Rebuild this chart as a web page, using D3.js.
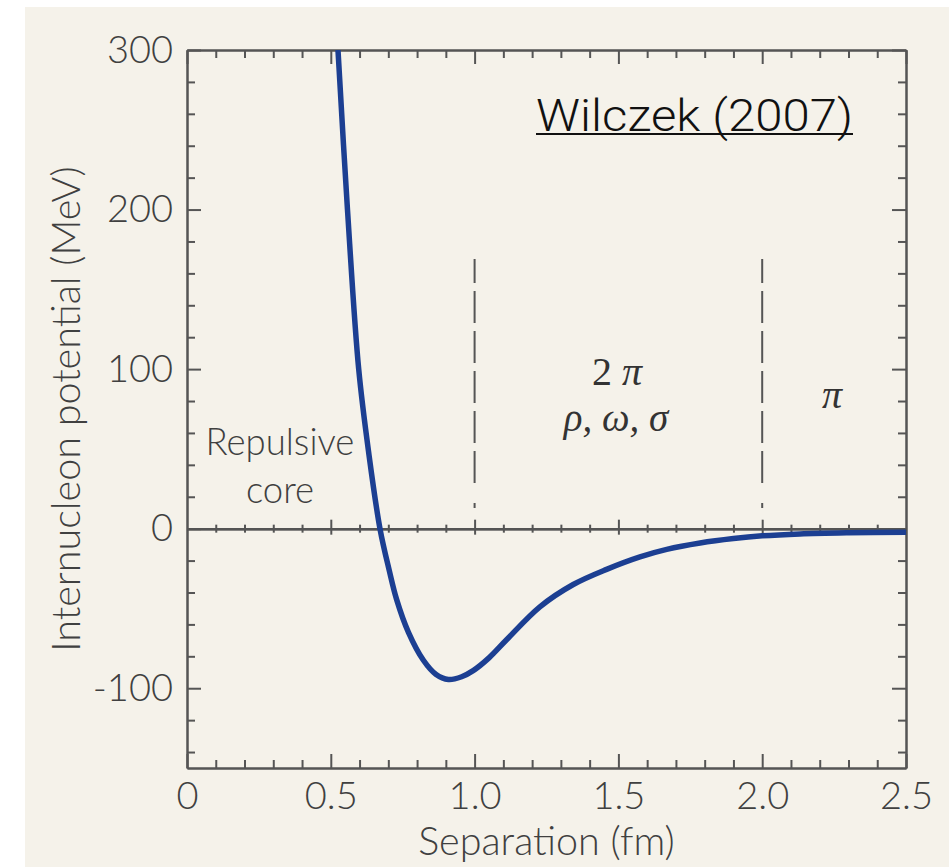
<!DOCTYPE html>
<html>
<head>
<meta charset="utf-8">
<script src="https://cdn.jsdelivr.net/npm/d3@7"></script>
<style>
  html, body { margin: 0; padding: 0; background: #fff; }
  svg { display: block; }
</style>
</head>
<body>
<div id="chart"></div>
<script>
// separation (fm) and internucleon potential (MeV)
var separation = [0.525, 0.558, 0.597, 0.633, 0.671, 0.703, 0.729, 0.770, 0.822, 0.865,
                  0.909, 0.955, 0.995, 1.050, 1.112, 1.227, 1.343, 1.459, 1.575, 1.668,
                  1.784, 1.900, 2.000, 2.131, 2.300, 2.500];
var potential  = [300, 200, 100, 46, 0, -26, -44.5, -65, -82.5, -91.2,
                  -94.5, -92.8, -89, -81, -69.5, -49, -35, -25.5, -17.7, -13,
                  -9, -6.2, -4.5, -3.3, -2.6, -2.2];

var xMajor = [0, 0.5, 1.0, 1.5, 2.0, 2.5];
var xTickLabels = ["0", "0.5", "1.0", "1.5", "2.0", "2.5"];
var yMajor = [-100, 0, 100, 200, 300];
var yTickLabels = ["-100", "0", "100", "200", "300"];

// range boundaries (dashed)
var dividers = [1.0, 2.0];
var dividerTop = 169;

var width = 949, height = 867;
var svg = d3.select("#chart").append("svg")
    .attr("width", width)
    .attr("height", height);

// cream panel
svg.append("rect")
    .attr("x", 25).attr("y", 7)
    .attr("width", width - 25).attr("height", height - 7)
    .attr("fill", "#f5f2ea");

var x = d3.scaleLinear().domain([0, 2.5]).range([187, 906]);
var y = d3.scaleLinear().domain([-150, 300]).range([768, 50]);

var xMinor = d3.range(1, 25).map(function (i) { return i / 10; })
    .filter(function (v) { return Math.abs(v * 2 - Math.round(v * 2)) > 1e-6; });
var yMinor = d3.range(-140, 300, 20).filter(function (v) { return v % 100 !== 0; });

var axisColor = "#555";
var textColor = "#404040";
var font = "Lato, 'Open Sans', sans-serif";

function styleAxis(g) {
    g.selectAll(".domain").attr("stroke", axisColor).attr("stroke-width", 2);
    g.selectAll(".tick line").attr("stroke", axisColor).attr("stroke-width", 2);
    g.selectAll(".tick text")
        .attr("fill", textColor)
        .attr("font-family", font)
        .attr("font-weight", 300)
        .attr("font-size", 38);
}

//Minor ticks first, majors on top
var topAxis = svg.append("g").attr("transform", "translate(0," + y.range()[1] + ")");
topAxis.append("g").call(d3.axisTop(x).tickValues(xMinor).tickSize(-8).tickSizeOuter(0).tickFormat("")).call(styleAxis);
topAxis.append("g").call(d3.axisTop(x).tickValues(xMajor).tickSize(-14).tickSizeOuter(0).tickFormat("")).call(styleAxis);

var bottomAxis = svg.append("g").attr("transform", "translate(0," + y.range()[0] + ")");
bottomAxis.append("g").call(d3.axisBottom(x).tickValues(xMinor).tickSize(-8).tickSizeOuter(0).tickFormat("")).call(styleAxis);
bottomAxis.append("g").call(d3.axisBottom(x).tickValues(xMajor).tickSize(-14).tickSizeOuter(0).tickPadding(14)
    .tickFormat(function (d, i) { return xTickLabels[i]; })).call(styleAxis);

var leftAxis = svg.append("g").attr("transform", "translate(" + x.range()[0] + ",0)");
leftAxis.append("g").call(d3.axisLeft(y).tickValues(yMinor).tickSize(-8).tickSizeOuter(0).tickFormat("")).call(styleAxis);
leftAxis.append("g").call(d3.axisLeft(y).tickValues(yMajor).tickSize(-14).tickSizeOuter(0).tickPadding(14)
    .tickFormat(function (d, i) { return yTickLabels[i]; })).call(styleAxis);

var rightAxis = svg.append("g").attr("transform", "translate(" + x.range()[1] + ",0)");
rightAxis.append("g").call(d3.axisRight(y).tickValues(yMinor).tickSize(-8).tickSizeOuter(0).tickFormat("")).call(styleAxis);
rightAxis.append("g").call(d3.axisRight(y).tickValues(yMajor).tickSize(-14).tickSizeOuter(0).tickFormat("")).call(styleAxis);

// zero line with ticks crossing it
var zeroAxis = svg.append("g").attr("transform", "translate(0," + y(0) + ")");
zeroAxis.append("g").call(d3.axisBottom(x).tickValues(xMinor).tickSize(4).tickSizeOuter(0).tickFormat("")).call(styleAxis);
zeroAxis.append("g").call(d3.axisBottom(x).tickValues(xMinor).tickSize(-4).tickSizeOuter(0).tickFormat("")).call(styleAxis);
zeroAxis.append("g").call(d3.axisBottom(x).tickValues(xMajor.slice(1, -1)).tickSize(6).tickSizeOuter(0).tickFormat("")).call(styleAxis);
zeroAxis.append("g").call(d3.axisBottom(x).tickValues(xMajor.slice(1, -1)).tickSize(-9).tickSizeOuter(0).tickFormat("")).call(styleAxis);

// dashed boundaries
svg.append("g").selectAll("line")
    .data(dividers)
    .enter().append("line")
    .attr("x1", function (d) { return x(d); })
    .attr("x2", function (d) { return x(d); })
    .attr("y1", y(dividerTop))
    .attr("y2", y(0))
    .attr("stroke", "#555")
    .attr("stroke-width", 2)
    .attr("stroke-dasharray", "24,8,32,8,32,8,32,8,32,8,32,20,5,40");

// the potential curve
svg.append("defs").append("clipPath").attr("id", "plotClip")
    .append("rect")
    .attr("x", x.range()[0]).attr("y", y.range()[1])
    .attr("width", x.range()[1] - x.range()[0])
    .attr("height", y.range()[0] - y.range()[1]);

var pts = separation.map(function (s, i) { return [s, potential[i]]; });
var line = d3.line()
    .x(function (d) { return x(d[0]); })
    .y(function (d) { return y(d[1]); })
    .curve(d3.curveCatmullRom.alpha(0.5));

svg.append("path")
    .datum(pts)
    .attr("clip-path", "url(#plotClip)")
    .attr("d", line)
    .attr("fill", "none")
    .attr("stroke", "#1c3f92")
    .attr("stroke-width", 5.5)
    .attr("stroke-linejoin", "round");

// axis titles
svg.append("text")
    .attr("x", (x.range()[0] + x.range()[1]) / 2)
    .attr("y", 855)
    .attr("text-anchor", "middle")
    .attr("font-family", font)
    .attr("font-weight", 300)
    .attr("font-size", 39.5)
    .attr("fill", textColor)
    .text("Separation (fm)");

svg.append("text")
    .attr("transform", "translate(80," + (y.range()[0] + y.range()[1]) / 2 + ") rotate(-90)")
    .attr("text-anchor", "middle")
    .attr("font-family", font)
    .attr("font-weight", 300)
    .attr("font-size", 39.5)
    .attr("fill", textColor)
    .text("Internucleon potential (MeV)");

// region labels
var core = svg.append("text")
    .attr("text-anchor", "middle")
    .attr("font-family", font)
    .attr("font-weight", 300)
    .attr("font-size", 36.5)
    .attr("fill", textColor);
core.append("tspan").attr("x", 280).attr("y", 455).text("Repulsive");
core.append("tspan").attr("x", 280).attr("y", 503).text("core");

var serif = "'Liberation Serif', 'DejaVu Serif', serif";
var mid = svg.append("text")
    .attr("text-anchor", "middle")
    .attr("font-family", serif)
    .attr("font-size", 40)
    .attr("fill", "#333");
mid.append("tspan").attr("x", 617).attr("y", 385).text("2 ");
mid.append("tspan").attr("font-style", "italic").text("π");
svg.append("text")
    .attr("x", 616).attr("y", 431)
    .attr("text-anchor", "middle")
    .attr("font-family", serif)
    .attr("font-style", "italic")
    .attr("font-size", 39)
    .attr("fill", "#333")
    .text("ρ, ω, σ");
svg.append("text")
    .attr("x", 832).attr("y", 408)
    .attr("text-anchor", "middle")
    .attr("font-family", serif)
    .attr("font-style", "italic")
    .attr("font-size", 40)
    .attr("fill", "#333")
    .text("π");

// citation
svg.append("text")
    .attr("x", 536).attr("y", 131)
    .attr("font-family", "Roboto, 'Liberation Sans', sans-serif")
    .attr("font-weight", 300)
    .attr("font-size", 45)
    .attr("textLength", 317)
    .attr("lengthAdjust", "spacingAndGlyphs")
    .attr("fill", "#111")
    .text("Wilczek (2007)");
svg.append("line")
    .attr("x1", 536).attr("x2", 853)
    .attr("y1", 134).attr("y2", 134)
    .attr("stroke", "#111")
    .attr("stroke-width", 2);
</script>
</body>
</html>
